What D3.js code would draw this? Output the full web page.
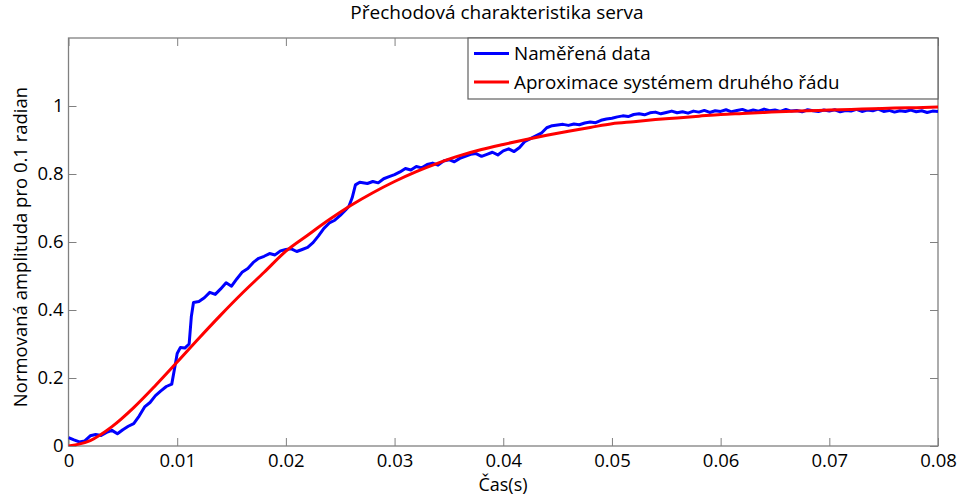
<!DOCTYPE html>
<html>
<head>
<meta charset="utf-8">
<script src="https://cdn.jsdelivr.net/npm/d3@7"></script>
<style>
  body { margin: 0; background: #fff; }
  svg text { font-family: "Open Sans", sans-serif; fill: #000; }
</style>
</head>
<body>
<svg id="chart" width="963" height="497"></svg>
<script>
var TITLE = 'Přechodová charakteristika serva';
var X_LABEL = 'Čas(s)';
var Y_LABEL = 'Normovaná amplituda pro 0.1 radian';
var SERIES_NAMES = ['Naměřená data', 'Aproximace systémem druhého řádu'];

var xTicks = [0, 0.01, 0.02, 0.03, 0.04, 0.05, 0.06, 0.07, 0.08];
var xTickLabels = ['0', '0.01', '0.02', '0.03', '0.04', '0.05', '0.06', '0.07', '0.08'];
var yTicks = [0, 0.2, 0.4, 0.6, 0.8, 1];
var yTickLabels = ['0', '0.2', '0.4', '0.6', '0.8', '1'];

var measTime = [
  0, 0.0005, 0.001, 0.0015, 0.002, 0.0025, 0.003, 0.0035, 0.004, 0.0045,
  0.005, 0.0055, 0.006, 0.0065, 0.007, 0.0075, 0.008, 0.0085, 0.009, 0.0095,
  0.0098, 0.01, 0.0103, 0.0107, 0.0111, 0.0113, 0.0115, 0.012, 0.0125, 0.013,
  0.0135, 0.014, 0.0145, 0.015, 0.0155, 0.016, 0.0165, 0.017, 0.0175, 0.018,
  0.0185, 0.019, 0.0195, 0.02, 0.0205, 0.021, 0.0215, 0.022, 0.0225, 0.023,
  0.0235, 0.024, 0.0245, 0.025, 0.0255, 0.0258, 0.0261, 0.0264, 0.0268, 0.0275,
  0.028, 0.0285, 0.029, 0.0295, 0.03, 0.0305, 0.031, 0.0315, 0.032, 0.0325,
  0.033, 0.0335, 0.034, 0.0345, 0.035, 0.0355, 0.036, 0.0365, 0.037, 0.0375,
  0.038, 0.0385, 0.039, 0.0395, 0.04, 0.0405, 0.041, 0.0415, 0.042, 0.0425,
  0.043, 0.0435, 0.044, 0.0445, 0.045, 0.0455, 0.046, 0.0465, 0.047, 0.0475,
  0.048, 0.0485, 0.049, 0.0495, 0.05, 0.0505, 0.051, 0.0515, 0.052, 0.0525,
  0.053, 0.0535, 0.054, 0.0545, 0.055, 0.0555, 0.056, 0.0565, 0.057, 0.0575,
  0.058, 0.0585, 0.059, 0.0595, 0.06, 0.0605, 0.061, 0.0615, 0.062, 0.0625,
  0.063, 0.0635, 0.064, 0.0645, 0.065, 0.0655, 0.066, 0.0665, 0.067, 0.0675,
  0.068, 0.0685, 0.069, 0.0695, 0.07, 0.0705, 0.071, 0.0715, 0.072, 0.0725,
  0.073, 0.0735, 0.074, 0.0745, 0.075, 0.0755, 0.076, 0.0765, 0.077, 0.0775,
  0.078, 0.0785, 0.079, 0.0795, 0.08
];
var measValue = [
  0.025, 0.018, 0.012, 0.015, 0.030, 0.034, 0.031, 0.040, 0.046, 0.036,
  0.048, 0.058, 0.066, 0.088, 0.115, 0.128, 0.148, 0.162, 0.175, 0.182,
  0.235, 0.272, 0.290, 0.288, 0.300, 0.380, 0.422, 0.425, 0.436, 0.452,
  0.446, 0.462, 0.480, 0.470, 0.492, 0.512, 0.522, 0.540, 0.552, 0.558,
  0.566, 0.562, 0.574, 0.578, 0.580, 0.572, 0.578, 0.584, 0.598, 0.618,
  0.640, 0.656, 0.664, 0.678, 0.694, 0.705, 0.730, 0.768, 0.776, 0.772,
  0.778, 0.774, 0.786, 0.792, 0.798, 0.806, 0.816, 0.812, 0.822, 0.818,
  0.828, 0.832, 0.826, 0.838, 0.842, 0.836, 0.846, 0.852, 0.858, 0.860,
  0.852, 0.858, 0.864, 0.856, 0.868, 0.874, 0.866, 0.878, 0.896, 0.904,
  0.912, 0.920, 0.936, 0.942, 0.944, 0.946, 0.943, 0.947, 0.945, 0.950,
  0.953, 0.951, 0.958, 0.962, 0.964, 0.968, 0.971, 0.969, 0.975, 0.977,
  0.974, 0.980, 0.982, 0.977, 0.981, 0.985, 0.980, 0.983, 0.979, 0.985,
  0.982, 0.987, 0.981, 0.986, 0.984, 0.989, 0.983, 0.987, 0.990, 0.984,
  0.988, 0.985, 0.991, 0.986, 0.988, 0.984, 0.990, 0.985, 0.987, 0.983,
  0.989, 0.986, 0.984, 0.988, 0.985, 0.989, 0.983, 0.987, 0.985, 0.990,
  0.984, 0.988, 0.986, 0.991, 0.984, 0.987, 0.982, 0.986, 0.984, 0.988,
  0.983, 0.986, 0.981, 0.985, 0.984
];

// second order approximation
var approxTime = [
  0, 0.002, 0.004, 0.006, 0.008, 0.01, 0.012, 0.014, 0.016, 0.018,
  0.02, 0.022, 0.024, 0.026, 0.028, 0.03, 0.032, 0.034, 0.036, 0.038,
  0.04, 0.042, 0.044, 0.046, 0.048, 0.05, 0.052, 0.054, 0.056, 0.058,
  0.06, 0.062, 0.064, 0.066, 0.068, 0.07, 0.072, 0.074, 0.076, 0.078, 0.08
];
var approxValue = [
  0, 0.016, 0.057, 0.113, 0.178, 0.247, 0.317, 0.385, 0.450, 0.511,
  0.573, 0.620, 0.666, 0.708, 0.745, 0.778, 0.807, 0.832, 0.854, 0.872,
  0.887, 0.901, 0.914, 0.926, 0.937, 0.948, 0.954, 0.960, 0.965, 0.970,
  0.975, 0.978, 0.981, 0.984, 0.986, 0.988, 0.990, 0.992, 0.994, 0.995, 0.997
];

var svg = d3.select('#chart');
var m = {left: 68.5, right: 938, top: 38, bottom: 446};

var x = d3.scaleLinear().domain([0, 0.08]).range([m.left, m.right]);
var y = d3.scaleLinear().domain([0, 1.2]).range([m.bottom, m.top]);

var axisColor = '#808080';

function styleAxis(g) {
    g.select('.domain').remove();
    g.selectAll('.tick line').attr('stroke', axisColor);
    g.selectAll('.tick text').attr('fill', '#000').style('font-size', '18.5px');
}

svg.append('g')
    .attr('transform', 'translate(0,' + m.bottom + ')')
    .call(d3.axisBottom(x).tickValues(xTicks).tickSize(-8).tickPadding(8)
        .tickFormat(function(d, i){ return xTickLabels[i]; }))
    .call(styleAxis);

svg.append('g')
    .attr('transform', 'translate(0,' + m.top + ')')
    .call(d3.axisTop(x).tickValues(xTicks).tickSize(-8).tickFormat(''))
    .call(styleAxis);

svg.append('g')
    .attr('transform', 'translate(' + m.left + ',0)')
    .call(d3.axisLeft(y).tickValues(yTicks).tickSize(-8).tickPadding(5)
        .tickFormat(function(d, i){ return yTickLabels[i]; }))
    .call(styleAxis);

svg.append('g')
    .attr('transform', 'translate(' + m.right + ',0)')
    .call(d3.axisRight(y).tickValues(yTicks).tickSize(-8).tickFormat(''))
    .call(styleAxis);

svg.append('rect')
    .attr('x', m.left).attr('y', m.top)
    .attr('width', m.right - m.left).attr('height', m.bottom - m.top)
    .attr('fill', 'none').attr('stroke', axisColor).attr('stroke-width', 1.3);

svg.append('clipPath').attr('id', 'clip')
  .append('rect')
    .attr('x', m.left).attr('y', m.top)
    .attr('width', m.right - m.left).attr('height', m.bottom - m.top);

var plot = svg.append('g').attr('clip-path', 'url(#clip)');

var line = d3.line()
    .x(function(d){ return x(d[0]); })
    .y(function(d){ return y(d[1]); });

plot.append('path')
    .datum(d3.zip(measTime, measValue))
    .attr('d', line)
    .attr('fill', 'none').attr('stroke', '#0000ff').attr('stroke-width', 3)
    .attr('stroke-linejoin', 'round');

plot.append('path')
    .datum(d3.zip(approxTime, approxValue))
    .attr('d', line.curve(d3.curveMonotoneX))
    .attr('fill', 'none').attr('stroke', '#ff0000').attr('stroke-width', 3);

// legend
var leg = svg.append('g').attr('transform', 'translate(468,38)');
leg.append('rect')
    .attr('width', 470).attr('height', 61)
    .attr('fill', '#fff').attr('stroke', '#606060').attr('stroke-width', 1.2);
var legColors = ['#0000ff', '#ff0000'];
SERIES_NAMES.forEach(function(name, i){
    var ly = 15.5 + i * 28.5;
    leg.append('line')
        .attr('x1', 6).attr('x2', 41).attr('y1', ly).attr('y2', ly)
        .attr('stroke', legColors[i]).attr('stroke-width', 3);
    leg.append('text')
        .attr('x', 46).attr('y', ly).attr('dy', '0.35em')
        .style('font-size', '18.8px')
        .text(name);
});

svg.append('text')
    .attr('x', 497).attr('y', 19)
    .attr('text-anchor', 'middle')
    .style('font-size', '19px')
    .text(TITLE);

svg.append('text')
    .attr('x', 503).attr('y', 491)
    .attr('text-anchor', 'middle')
    .style('font-size', '18px')
    .text(X_LABEL);

svg.append('text')
    .attr('transform', 'translate(27,247) rotate(-90)')
    .attr('text-anchor', 'middle')
    .style('font-size', '18.5px')
    .text(Y_LABEL);
</script>
</body>
</html>
